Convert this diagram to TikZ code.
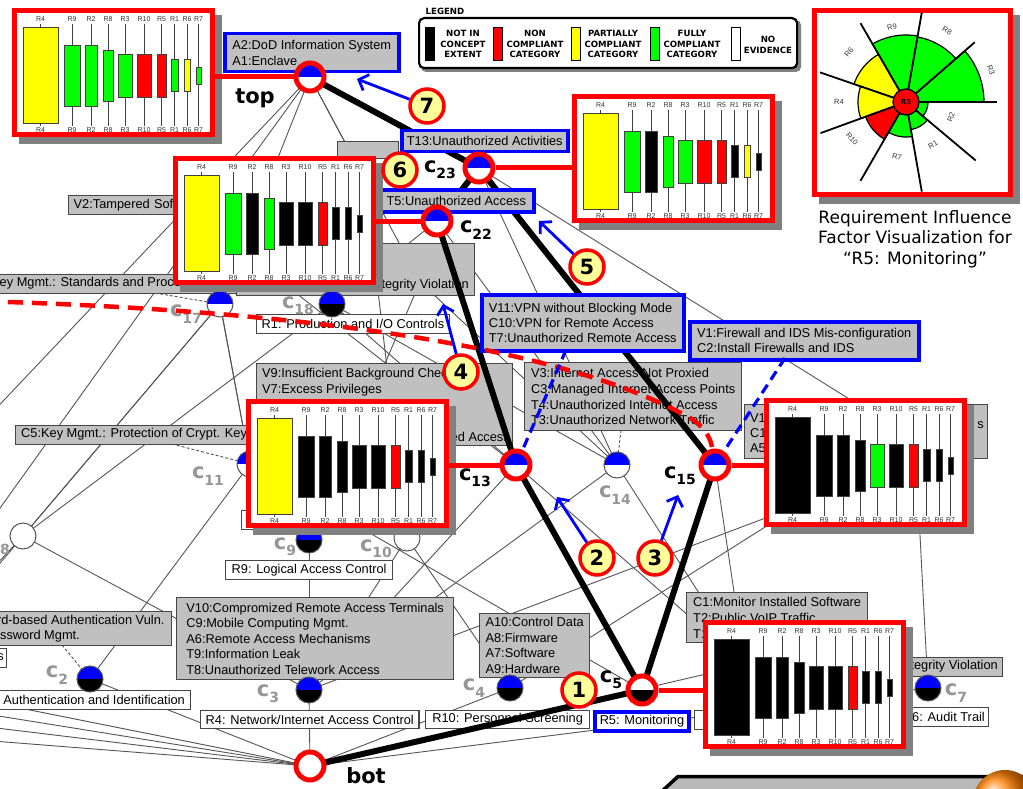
\documentclass[tikz,border=0pt]{standalone}
\usepackage{fontspec}
\setmainfont{Liberation Sans}
\newfontfamily\vfont{DejaVu Sans}
\usetikzlibrary{arrows.meta}
\definecolor{boxgrey}{RGB}{192,192,192}
\definecolor{boxline}{RGB}{70,70,70}
\definecolor{edgegrey}{RGB}{85,85,85}
\definecolor{labgrey}{RGB}{150,150,150}
\definecolor{ltblue}{RGB}{0,0,255}
\definecolor{yel}{RGB}{255,255,0}
\definecolor{grn}{RGB}{0,255,0}
\definecolor{rd}{RGB}{255,0,0}
\definecolor{badgefill}{RGB}{255,255,153}
\definecolor{shad}{RGB}{128,128,128}
\newcommand\boxfont{\fontsize{12.8}{15.5}\selectfont}
\newcommand\sbs[1]{\raisebox{-0.3em}{\fontsize{14}{14}\selectfont #1}}
\tikzset{
  latedge/.style={draw=edgegrey, line width=0.9pt},
  attrline/.style={draw=edgegrey, line width=0.9pt, dash pattern=on 3pt off 2pt},
  thickp/.style={draw=black, line width=6pt},
  redcon/.style={draw=rd, line width=5pt},
  gbox/.style={draw=boxline, fill=boxgrey, line width=1.3pt, anchor=north west, inner xsep=5pt, inner ysep=0pt, align=left, font=\boxfont},
  wbox/.style={gbox, fill=white},
  bbox/.style={gbox, draw=ltblue, line width=3.5pt},
  btext/.style={font=\boxfont, inner sep=0pt},
  latnode/.style 2 args={circle, inner sep=0pt, minimum size=26pt, draw=edgegrey, line width=1pt,
    path picture={\fill[#1] (path picture bounding box.north west) rectangle (path picture bounding box.east);
                  \fill[#2] (path picture bounding box.west) rectangle (path picture bounding box.south east);}},
  hlnode/.style 2 args={latnode={#1}{#2}, minimum size=28pt, draw=rd, line width=5pt},
  hllab/.style={font=\vfont\bfseries\fontsize{21}{21}\selectfont, inner sep=0pt},
  glab/.style={hllab, text=labgrey},
  numbadge/.style={circle, fill=badgefill, draw=rd, line width=3.5pt, minimum size=34pt, inner sep=0pt, font=\vfont\bfseries\fontsize{21}{21}\selectfont},
  barrow/.style={draw=ltblue, line width=2.8pt, -{Straight Barb[length=8pt,width=17pt]}},
  bdash/.style={draw=ltblue, line width=3.2pt, dash pattern=on 10pt off 6pt},
  rdash/.style={draw=rd, line width=4.5pt, dash pattern=on 15pt off 9pt},
  chartframe/.style={draw=rd, line width=5pt, fill=white, minimum width=198pt, minimum height=124pt, inner sep=0pt, anchor=north west},
  clab/.style={font=\fontsize{7}{7}\selectfont, text=black!80, inner sep=0pt},
  rlab/.style={font=\fontsize{7.5}{7.5}\selectfont, text=black!80, inner sep=0pt},
  whisk/.style={draw=black!75, line width=0.8pt},
  barl/.style={draw=black!75, line width=0.8pt},
  lbar/.style={draw=black, line width=1pt, minimum width=9pt, minimum height=33pt, inner sep=0pt},
  legt/.style={font=\vfont\bfseries\fontsize{8.6}{10.5}\selectfont, align=center, inner sep=0pt}
}
\newcommand\rchart[4]{%
  \fill[shad] ({#2+7},{#3+7}) rectangle ({#2+210},{#3+136});
  \node[chartframe] (#1) at (#2,#3) {};
  \begin{scope}[shift={(#2,#3)}]
    \foreach \cx/\hw/\ty/\by/\lab [count=\i from 0] in {28.5/17.5/19/115/R4,60/8/37/98/R9,79/6/37/98/R2,96/5/42/93/R8,113/7/46/89/R3,132/7/46/89/R10,149.5/4.5/46/89/R5,162.5/3.5/51/83/R1,175/3/51/83/R6,186.5/2.5/59/76/R7}{%
      \pgfmathtruncatemacro\cc{{#4}[\i]}%
      \edef\fc{\ifcase\cc white\or black\or yel\or grn\or rd\fi}%
      \draw[whisk] (\cx,16) -- (\cx,118);
      \filldraw[barl, fill=\fc] ({\cx-\hw},\ty) rectangle ({\cx+\hw},\by);
      \node[clab] (#1t\i) at (\cx,11.5) {\lab};
      \node[clab] (#1b\i) at (\cx,122.5) {\lab};
    }
  \end{scope}}
\begin{document}
\begin{tikzpicture}[x=1pt,y=-1pt]
\useasboundingbox (0,0) rectangle (1023,789);
\clip (0,0) rectangle (1023,789);
\fill[white] (-5,-5) rectangle (1030,795);
% ---------- node centres
\coordinate (top) at (310,77);
\coordinate (c23) at (479,168);
\coordinate (c22) at (437,221);
\coordinate (c13) at (516,465);
\coordinate (c14) at (617,465);
\coordinate (c15) at (715,465);
\coordinate (c17) at (220,304);
\coordinate (c18) at (332,304);
\coordinate (c11) at (250,464);
\coordinate (c8) at (23,536);
\coordinate (c9) at (309,540);
\coordinate (c10) at (407,538);
\coordinate (c2) at (90,679);
\coordinate (c3) at (309,690);
\coordinate (c4) at (510,688);
\coordinate (c5) at (642,690);
\coordinate (c7) at (928,688);
\coordinate (bot) at (310,766);
\coordinate (c19) at (205,222);
\coordinate (c20) at (420,282);
\coordinate (c21) at (365,180);
\coordinate (c16) at (915,440);
\coordinate (c12) at (800,505);
\coordinate (c6) at (745,665);
\coordinate (oL1) at (-30,436);
\coordinate (oL2) at (-20,536);
\coordinate (oL3) at (-10,575);
\coordinate (oL4) at (-20,582);
\coordinate (oB1) at (-20,700);
\coordinate (oB2) at (-20,713);
\coordinate (oB3) at (-20,726);
\coordinate (oB4) at (-20,740);
\coordinate (ksd) at (155,293);
\coordinate (c5d) at (172,444);
\coordinate (pwd) at (62,645);
\coordinate (v3d) at (621,430);
% ---------- thin lattice edges
\foreach \p/\q in {top/oL1,top/c19,top/c17,top/c20,top/c21,c23/c16,c23/c14,c22/c18,c22/c14,c21/c10,
  c19/oL2,c19/c13,c19/c11,c17/oL3,c17/c11,c8/c17,c8/c18,c8/c3,c8/oL4,c18/c13,c18/c14,c20/c9,c20/c14,
  c11/c2,c11/c5,c11/c9,c9/c3,c10/c3,c10/c4,c13/c3,c13/c6,c14/c3,c14/c6,c15/c6,c16/c7,c16/c12,
  c12/c3,c12/c4,c2/bot,c3/bot,c4/bot,c6/bot,c7/bot,bot/oB1,bot/oB2,bot/oB3,bot/oB4}
  \draw[latedge] (\p) -- (\q);
\foreach \p/\q in {ksd/c17,c5d/c11,pwd/c2,v3d/c14} \draw[attrline] (\p) -- (\q);
% ---------- grey and white label boxes
\node[gbox, minimum width=190pt, minimum height=19pt, text width=180pt] (v2box) at (68,195) {V2:Tampered Software};
\node[gbox, minimum width=290pt, minimum height=19pt] (ksbox) at (-30,274) {};
\node[btext, anchor=west] (kstext) at (-9,283.5) {Key Mgmt.: Standards and Procedures};
\node[gbox, minimum width=238pt, minimum height=52pt] (ivbox) at (236,243) {};
\node[btext, anchor=east] (ivtext) at (469,285) {Integrity Violation};
\node[gbox, minimum width=61pt, minimum height=17pt] (c21box) at (337,141) {};
\node[gbox, minimum width=285pt, minimum height=19pt] (c5box) at (15,425) {};
\node[btext, anchor=west] (c5text) at (21,434.5) {C5:Key Mgmt.: Protection of Crypt. Keys};
\node[gbox, minimum width=256pt, minimum height=82pt] (v9box) at (256,363) {};
\node[btext, anchor=west] (v9t1) at (262,374) {V9:Insufficient Background Checks};
\node[btext, anchor=west] (v9t2) at (262,390) {V7:Excess Privileges};
\node[btext, anchor=east] (v9t3) at (510,437) {Unauthorized Access};
\node[gbox, minimum width=217pt, minimum height=68pt, font=\fontsize{12.8}{15.8}\selectfont] (v3box) at (524,362) {V3:Internet Access Not Proxied\\C3:Managed Internet Access Points\\T4:Unauthorized Internet Access\\T3:Unauthorized Network Traffic};
\node[gbox, minimum width=243pt, minimum height=54pt] (v1rbox) at (744,404) {};
\node[btext, anchor=west] (v1rt1) at (750,418) {V1};
\node[btext, anchor=west] (v1rt2) at (750,433) {C1};
\node[btext, anchor=west] (v1rt3) at (750,448) {A5};
\node[btext, anchor=east] (v1rt4) at (984,425) {s};
\node[gbox, minimum width=201pt, minimum height=34pt] (pwbox) at (-30,611) {};
\node[btext, anchor=west] (pwt1) at (-48,620) {Password-based Authentication Vuln.};
\node[btext, anchor=west] (pwt2) at (-15.7,636) {Password Mgmt.};
\node[gbox, minimum width=277pt, minimum height=82pt] (v10box) at (176,597) {V10:Compromized Remote Access Terminals\\C9:Mobile Computing Mgmt.\\A6:Remote Access Mechanisms\\T9:Information Leak\\T8:Unauthorized Telework Access};
\node[gbox, minimum width=110pt, minimum height=64pt] (a10box) at (479,613) {A10:Control Data\\A8:Firmware\\A7:Software\\A9:Hardware};
\node[gbox, minimum width=181pt, minimum height=50pt, font=\fontsize{12.8}{16}\selectfont] (c1box) at (686,592) {C1:Monitor Installed Software\\T2:Public VoIP Traffic\\T1};
\node[gbox, minimum width=99pt, minimum height=19pt] (iv2box) at (903,657) {};
\node[btext, anchor=east] (iv2text) at (998,666.5) {Integrity Violation};
\node[wbox, minimum width=192pt, minimum height=19pt] (r1box) at (256,314) {R1: Production and I/O Controls};
\node[wbox, minimum width=167pt, minimum height=19pt] (r9box) at (225,560) {R9: Logical Access Control};
\node[wbox, minimum width=60pt, minimum height=19pt] (hidbox) at (241,510) {};
\node[wbox, minimum width=193pt, minimum height=19pt] (aibox) at (-3,690) {Authentication and Identification};
\node[wbox, minimum width=217pt, minimum height=18pt] (r4box) at (200,710) {R4: Network/Internet Access Control};
\node[wbox, minimum width=164pt, minimum height=18pt] (r10box) at (425,710) {R10: Personnel Screening};
\node[wbox, minimum width=30pt, minimum height=19pt] (hid2box) at (694,710) {};
\node[wbox, minimum width=108pt, minimum height=19pt] (r6box) at (880,707) {};
\node[btext, anchor=east] (r6text) at (985,716.5) {R6: Audit Trail};
\node[wbox, minimum width=46pt, minimum height=19pt] (sbox) at (-40,648) {};
\node[btext, anchor=east] (stext) at (4,657.5) {s};
% ---------- thick path
\foreach \p/\q in {top/c23,c23/c22,c23/c15,c22/c13,c13/c5,c15/c5,c5/bot} \draw[thickp] (\p) -- (\q);
% ---------- highlighted label boxes
\node[bbox, minimum width=174pt, minimum height=38pt, font=\fontsize{12.8}{16}\selectfont] (a2box) at (223,32) {A2:DoD Information System\\A1:Enclave};
\node[bbox, minimum width=166pt, minimum height=21pt] (t13box) at (400,129) {T13:Unauthorized Activities};
\node[bbox, minimum width=155pt, minimum height=22pt] (t5box) at (377,188) {T5:Unauthorized Access};
\node[bbox, minimum width=202pt, minimum height=56pt, font=\fontsize{12.8}{15}\selectfont] (v11box) at (480,293) {V11:VPN without Blocking Mode\\C10:VPN for Remote Access\\T7:Unauthorized Remote Access};
\node[bbox, minimum width=229pt, minimum height=38pt, font=\fontsize{12.8}{15}\selectfont] (v1box) at (688,320) {V1:Firewall and IDS Mis-configuration\\C2:Install Firewalls and IDS};
\node[bbox, fill=white, minimum width=94pt, minimum height=19pt] (r5box) at (593,710) {R5: Monitoring};
% ---------- lattice nodes
\node[latnode={ltblue}{white}] (c17) at (c17) {};
\node[latnode={ltblue}{black}] (c18) at (c18) {};
\node[latnode={ltblue}{white}] (c11) at (c11) {};
\node[latnode={white}{white}] (c8) at (c8) {};
\node[latnode={ltblue}{black}] (c9) at (c9) {};
\node[latnode={white}{white}] (c10) at (c10) {};
\node[latnode={ltblue}{white}] (c14) at (c14) {};
\node[latnode={ltblue}{black}] (c2) at (c2) {};
\node[latnode={ltblue}{black}] (c3) at (c3) {};
\node[latnode={ltblue}{black}] (c4) at (c4) {};
\node[latnode={ltblue}{black}] (c7) at (c7) {};
\node[hlnode={ltblue}{white}] (top) at (top) {};
\node[hlnode={ltblue}{white}] (c23) at (c23) {};
\node[hlnode={ltblue}{white}] (c22) at (c22) {};
\node[hlnode={ltblue}{white}] (c13) at (c13) {};
\node[hlnode={ltblue}{white}] (c15) at (c15) {};
\node[hlnode={white}{black}] (c5) at (c5) {};
\node[hlnode={white}{white}] (bot) at (bot) {};
% ---------- node labels
\node[hllab] (ltop) at (255,98) {top};
\node[hllab] (lbot) at (366,776) {bot};
\node[hllab] (lc23) at (440,170) {c\sbs{23}};
\node[hllab] (lc22) at (476,230) {c\sbs{22}};
\node[hllab] (lc13) at (475,478) {c\sbs{13}};
\node[hllab] (lc15) at (680,476) {c\sbs{15}};
\node[hllab] (lc5) at (611,680) {c\sbs{5}};
\node[glab] (lc17) at (186,314) {c\sbs{17}};
\node[glab] (lc18) at (298,306) {c\sbs{18}};
\node[glab] (lc11) at (208,476) {c\sbs{11}};
\node[glab] (lc14) at (615,495) {c\sbs{14}};
\node[glab] (lc9) at (285,547) {c\sbs{9}};
\node[glab] (lc10) at (376,549) {c\sbs{10}};
\node[glab] (lc2) at (57,675) {c\sbs{2}};
\node[glab] (lc3) at (268,694) {c\sbs{3}};
\node[glab] (lc4) at (474,688) {c\sbs{4}};
\node[glab] (lc7) at (956,693) {c\sbs{7}};
\node[glab, anchor=east] (lc8) at (10,546) {c\sbs{8}};
% ---------- bar charts
\rchart{ch1}{12}{8}{2,3,3,3,3,4,4,3,2,3}
\rchart{ch2}{572}{94}{2,3,1,3,3,4,4,1,2,1}
\rchart{ch3}{173}{156}{2,3,1,3,1,1,4,1,1,1}
\rchart{ch4}{246}{399}{2,1,1,1,1,1,4,1,1,1}
\rchart{ch5}{764}{398}{1,1,1,1,3,1,4,1,1,1}
\rchart{ch6}{703}{620}{1,1,1,1,1,1,4,1,1,1}
\draw[redcon] (top) -- (top -| ch1.east);
\draw[redcon] (c23) -- (c23 -| ch2.west);
\draw[redcon] (c22) -- (c22 -| ch3.east);
\draw[redcon] (c13) -- (c13 -| ch4.east);
\draw[redcon] (c15) -- (c15 -| ch5.west);
\draw[redcon] (c5) -- (c5 -| ch6.west);
% ---------- dashed highlights
\coordinate (rd0) at (8,302);
\coordinate (rd1) at (690,418);
\coordinate (rd2) at (712,447);
\draw[rdash] (rd0) .. controls (300,312) and (560,345) .. (rd1) .. controls (703,426) and (710,436) .. (rd2);
\coordinate (bd1) at (566,350);
\coordinate (bd2) at (785,358);
\draw[bdash] (bd1) -- (c13);
\draw[bdash] (bd2) -- (c15);
% ---------- numbered badges and arrows
\node[numbadge] (m7) at (427,106) {7};
\node[numbadge] (m6) at (400,170) {6};
\node[numbadge] (m5) at (587,267) {5};
\node[numbadge] (m4) at (461,372) {4};
\node[numbadge] (m2) at (597,558) {2};
\node[numbadge] (m3) at (655,558) {3};
\node[numbadge] (m1) at (579,690) {1};
\coordinate (a7) at (357,79);
\coordinate (a5) at (539,221);
\coordinate (a4) at (443,304);
\coordinate (a2) at (557,497);
\coordinate (a3) at (678,495);
\draw[barrow] (m7) -- (a7);
\draw[barrow] (m5) -- (a5);
\draw[barrow] (m4) -- (a4);
\draw[barrow] (m2) -- (a2);
\draw[barrow] (m3) -- (a3);
% ---------- legend
\node[font=\vfont\bfseries\fontsize{8.6}{9}\selectfont, inner sep=0pt] (legtitle) at (445,11) {LEGEND};
\fill[shad, rounded corners=5pt] (421,20) rectangle (801,72);
\node[draw=black, line width=2.2pt, rounded corners=5pt, fill=white, minimum width=378pt, minimum height=50pt, inner sep=0pt, anchor=north west] (legend) at (418,17) {};
\node[lbar, fill=black] (lb1) at (430,44) {};
\node[lbar, fill=rd] (lb2) at (497.5,44) {};
\node[lbar, fill=yel] (lb3) at (576,44) {};
\node[lbar, fill=grn] (lb4) at (655,44) {};
\node[lbar, fill=white] (lb5) at (735.5,44) {};
\node[legt] (lt1) at (463,44) {NOT IN\\CONCEPT\\EXTENT};
\node[legt] (lt2) at (535,44) {NON\\COMPLIANT\\CATEGORY};
\node[legt] (lt3) at (613,44) {PARTIALLY\\COMPLIANT\\CATEGORY};
\node[legt] (lt4) at (692,44) {FULLY\\COMPLIANT\\CATEGORY};
\node[legt] (lt5) at (768,45) {NO\\EVIDENCE};
% ---------- radial influence chart
\fill[shad] (819,15) rectangle (1020,204);
\node[draw=rd, line width=5pt, fill=white, minimum width=196pt, minimum height=184pt, inner sep=0pt, anchor=north west] (radial) at (812,8) {};
\foreach \sa/\sb/\rr/\cl in {0/41/78/grn,41/80/66/grn,80/120/67/grn,120/161/55/yel,161/200/48/yel,200/240/43/rd,240/280/35/grn,280/320/28/grn,320/360/22/grn}
  \filldraw[fill=\cl, draw=black, line width=1.2pt] (906,102) -- plot[domain=\sa:\sb, samples=16] ({906+\rr*cos(\x)},{102-\rr*sin(\x)}) -- cycle;
\foreach \ang in {0,41,80,120,161,200,240,280,320}
  \draw[line width=1.8pt] ({906+13*cos(\ang)},{102-13*sin(\ang)}) -- ({906+91*cos(\ang)},{102-91*sin(\ang)});
\node[circle, fill=rd, draw=black, line width=1.3pt, minimum size=26pt, inner sep=0pt, font=\vfont\bfseries\fontsize{7}{7}\selectfont] (r5c) at (906,102) {R5};
\node[rlab, rotate=10] (rl9) at (892,27) {R9};
\node[rlab, rotate=-30] (rl8) at (947,31) {R8};
\node[rlab, rotate=-70] (rl3) at (991,70) {R3};
\node[rlab, rotate=50] (rl6) at (849,52) {R6};
\node[rlab] (rl4) at (839,102) {R4};
\node[rlab, rotate=-50] (rl10) at (852,139) {R10};
\node[rlab, rotate=-10] (rl7) at (897,157) {R7};
\node[rlab, rotate=30] (rl1) at (933,145) {R1};
\node[rlab, rotate=70] (rl2) at (951,117) {R2};
\node[font=\vfont\fontsize{17}{20.5}\selectfont, align=center, inner sep=0pt] (caption) at (915,239) {Requirement Influence\\Factor Visualization for\\“R5: Monitoring”};
% ---------- bottom-right decoration
\fill[gray!55] (662,792) -- (678,776.5) -- (1030,776.5) -- (1030,792) -- cycle;
\draw[line width=3.5pt] (660,793) -- (678,776.5) -- (1030,776.5);
\shade[ball color=orange] (1005,802) circle[radius=32pt];
\end{tikzpicture}
\end{document}
